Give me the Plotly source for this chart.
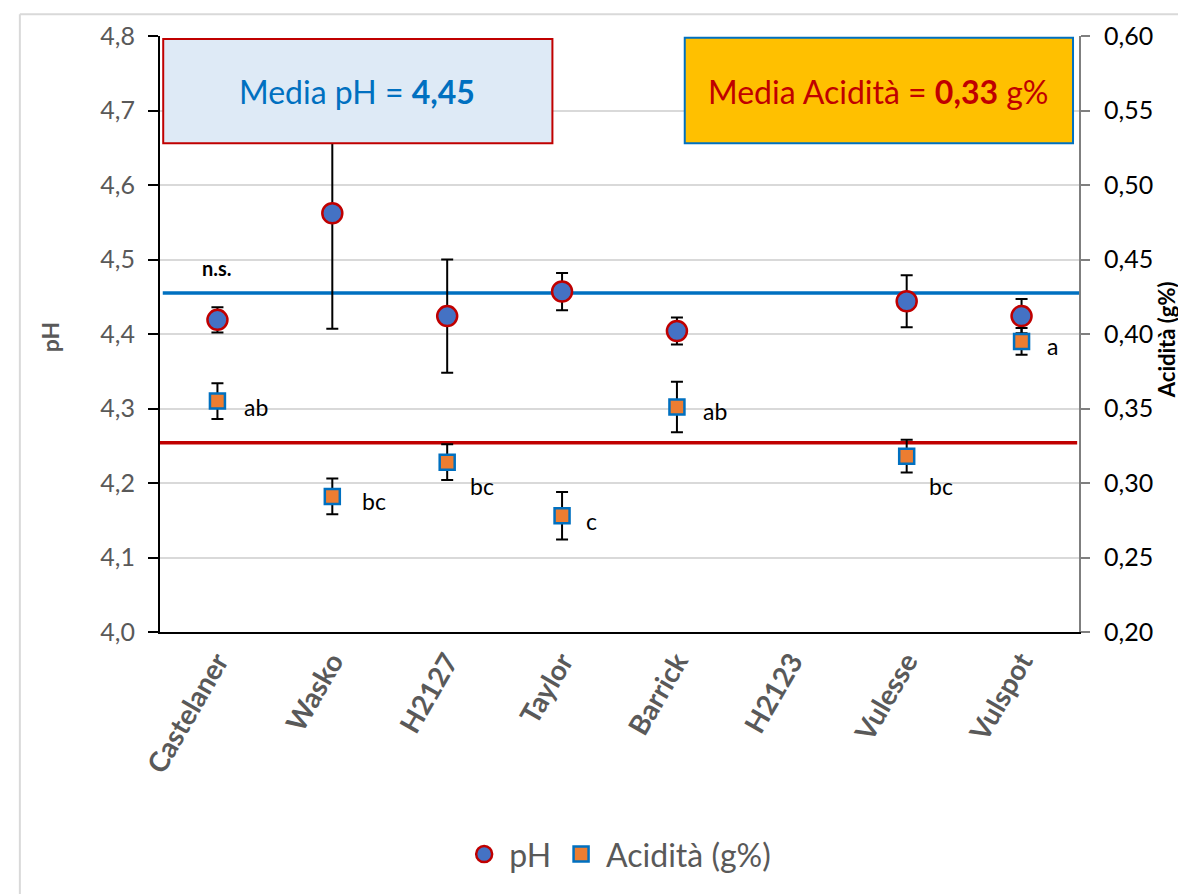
import plotly.graph_objects as go

# ---------------- data ----------------
categories = ["Castelaner", "Wasko", "H2127", "Taylor", "Barrick", "H2123", "Vulesse", "Vulspot"]
ph_values = [4.419, 4.562, 4.424, 4.457, 4.404, None, 4.444, 4.424]
ph_errors = [0.017, 0.155, 0.076, 0.025, 0.018, 0, 0.035, 0.023]
acid_values = [0.355, 0.291, 0.314, 0.278, 0.351, None, 0.318, 0.395]
acid_errors = [0.012, 0.012, 0.012, 0.016, 0.017, 0, 0.011, 0.009]
acid_letters = ["ab", "bc", "bc", "c", "ab", "", "bc", "a"]
ph_mean_line = 4.455
acid_mean_line = 0.327
ph_mean_label = "4,45"
acid_mean_label = "0,33"
ph_ticks = [4.0, 4.1, 4.2, 4.3, 4.4, 4.5, 4.6, 4.7, 4.8]
acid_ticks = [0.20, 0.25, 0.30, 0.35, 0.40, 0.45, 0.50, 0.55, 0.60]

# ---------------- style ----------------
FONT = "Lato"
GREY = "#595959"
letter_shift = [(39, -6), (42, -5), (35, -24), (29, -5), (38, -4), (0, 0), (34, -30), (31, -5)]

fig = go.Figure()

fig.add_trace(go.Scatter(
    x=categories, y=ph_values, name="pH", mode="markers",
    marker=dict(symbol="circle", size=20, color="#4472C4",
                line=dict(color="#C00000", width=2.5)),
    error_y=dict(type="data", array=ph_errors, visible=True,
                 color="black", thickness=2, width=6),
    yaxis="y",
))

fig.add_trace(go.Scatter(
    x=categories, y=acid_values, name="Acidità (g%)", mode="markers",
    marker=dict(symbol="square", size=15, color="#ED7D31",
                line=dict(color="#0070C0", width=2.5)),
    error_y=dict(type="data", array=acid_errors, visible=True,
                 color="black", thickness=2, width=6),
    yaxis="y2",
))

shapes = [
    # mean lines
    dict(type="line", xref="paper", yref="y", x0=0.003, x1=1.0,
         y0=ph_mean_line, y1=ph_mean_line, line=dict(color="#0070C0", width=3.5),
         layer="between"),
    dict(type="line", xref="paper", yref="y2", x0=0.0, x1=0.998,
         y0=acid_mean_line, y1=acid_mean_line, line=dict(color="#C00000", width=3.5),
         layer="between"),
    # info boxes
    dict(type="rect", xref="paper", yref="paper", x0=0.0035, x1=0.427,
         y0=0.820, y1=0.995, fillcolor="#DEEAF6",
         line=dict(color="#C00000", width=2), layer="above"),
    dict(type="rect", xref="paper", yref="paper", x0=0.571, x1=0.9935,
         y0=0.820, y1=0.997, fillcolor="#FFC000",
         line=dict(color="#0070C0", width=2), layer="above"),
    # outer chart border
    dict(type="line", xref="paper", yref="paper", x0=-0.1525, x1=-0.1525,
         y0=-0.5, y1=1.0366, line=dict(color="#D9D9D9", width=2)),
    dict(type="line", xref="paper", yref="paper", x0=-0.1525, x1=1.3,
         y0=1.0366, y1=1.0366, line=dict(color="#D9D9D9", width=2)),
]

annotations = [
    dict(xref="paper", yref="paper", x=0.2146, y=0.907, xanchor="center", yanchor="middle",
         showarrow=False, text=f"Media pH = <b>{ph_mean_label}</b>",
         font=dict(family=FONT, size=32, color="#0070C0")),
    dict(xref="paper", yref="paper", x=0.782, y=0.907, xanchor="center", yanchor="middle",
         showarrow=False, text=f"Media Acidità = <b>{acid_mean_label}</b> g%",
         font=dict(family=FONT, size=32, color="#C00000")),
    dict(xref="x", yref="y", x=categories[0], y=4.488, showarrow=False,
         xanchor="center", yanchor="middle",
         text="<b>n.s.</b>", font=dict(family=FONT, size=20, color="black")),
    dict(xref="paper", yref="paper", x=-0.12, y=0.494, showarrow=False,
         xanchor="center", yanchor="middle",
         text="<b>pH</b>", textangle=-90,
         font=dict(family=FONT, size=23, color=GREY)),
    dict(xref="paper", yref="paper", x=1.096, y=0.49, showarrow=False,
         xanchor="center", yanchor="middle",
         text="<b>Acidità (g%)</b>", textangle=-90,
         font=dict(family=FONT, size=22, color="black")),
]
for cat, val, lab, (dx, dy) in zip(categories, acid_values, acid_letters, letter_shift):
    if val is None or not lab:
        continue
    annotations.append(dict(xref="x", yref="y2", x=cat, y=val, text=lab,
                            showarrow=False, xshift=dx, yshift=dy,
                            xanchor="center", yanchor="middle",
                            font=dict(family=FONT, size=23, color="black")))

fig.update_layout(
    width=1178, height=886,
    margin=dict(l=152, r=107, t=24, b=261),
    paper_bgcolor="white", plot_bgcolor="white",
    separators=",.",
    font=dict(family=FONT, color=GREY),
    showlegend=True,
    legend=dict(orientation="h", x=0.498, xanchor="center", y=-0.373, yanchor="middle",
                font=dict(family=FONT, size=32, color=GREY), itemsizing="trace",
                itemwidth=40),
    xaxis=dict(
        type="category", categoryorder="array", categoryarray=categories,
        range=[-0.5, 7.5], showgrid=False, showline=True, linecolor="black",
        linewidth=2, ticks="", tickangle=-60,
        tickfont=dict(family=FONT, size=28, color=GREY, weight="bold"),
    ),
    yaxis=dict(
        range=[4.0, 4.8], tickvals=ph_ticks, tickformat=".1f",
        showgrid=True, gridcolor="#D9D9D9", gridwidth=1.5,
        showline=True, linecolor="black", linewidth=2,
        ticks="outside", ticklen=10, tickcolor="black", tickwidth=2,
        ticklabelstandoff=8,
        tickfont=dict(family=FONT, size=25, color=GREY), zeroline=False,
    ),
    yaxis2=dict(
        range=[0.20, 0.60], tickvals=acid_ticks, tickformat=".2f",
        overlaying="y", side="right", showgrid=False,
        showline=True, linecolor="#7F7F7F", linewidth=2,
        ticks="outside", ticklen=9, tickcolor="#7F7F7F", tickwidth=2,
        ticklabelstandoff=9,
        tickfont=dict(family=FONT, size=25, color="black"), zeroline=False,
    ),
    shapes=shapes,
    annotations=annotations,
)

fig.write_html("out.html")
